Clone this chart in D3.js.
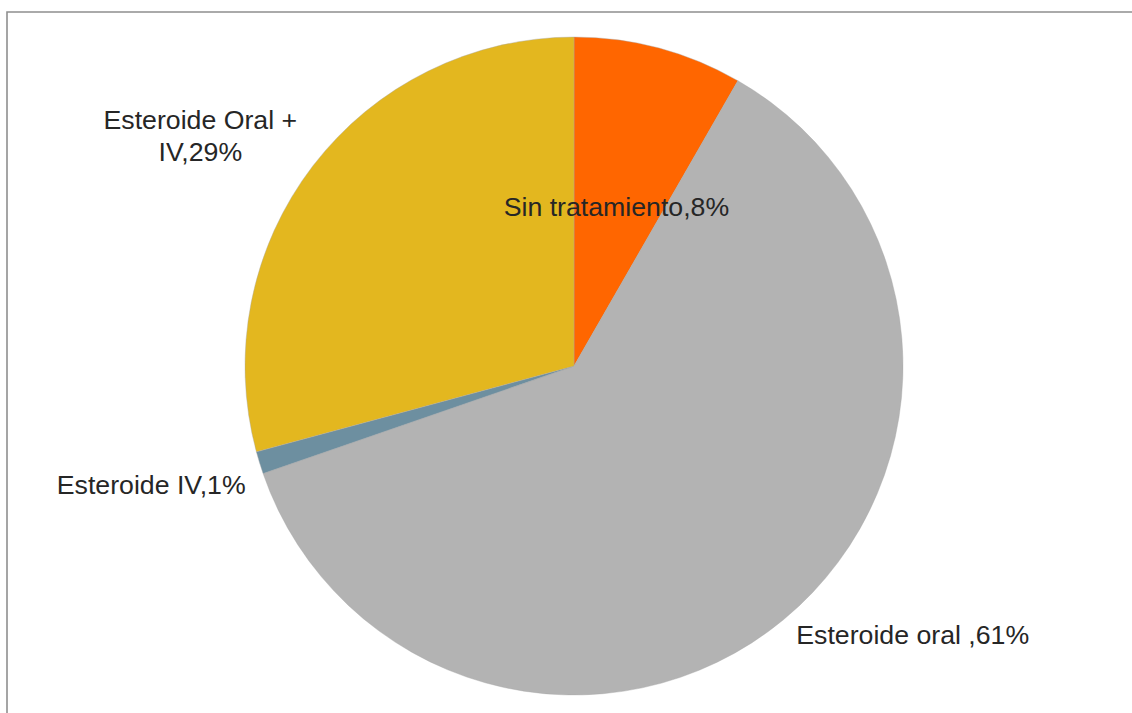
<!DOCTYPE html>
<html>
<head>
<meta charset="utf-8">
<script src="https://cdn.jsdelivr.net/npm/d3@7"></script>
<style>
  html, body { margin: 0; padding: 0; background: #fff; }
  svg { display: block; }
</style>
</head>
<body>
<div id="chart"></div>
<script>
// data (start at 12 o'clock, clockwise)
const categories = ["Sin tratamiento", "Esteroide oral ", "Esteroide IV", "Esteroide Oral + IV"];
const values = [8.3, 61.4, 1.1, 29.2];
const colors = ["#ff6600", "#b3b3b3", "#6d8fa0", "#e3b71f"];

// label placement: inside/outside, small nudges, wrap width
const labelInside = [true, false, false, false];
const labelNudge = [[0, 0], [0, 0], [5, 16], [0, 0]];
const labelWrap = [0, 0, 0, 200];

const width = 1132, height = 713;
const cx = 574, cy = 366, R = 329;
const fontSize = 26.7;

const svg = d3.select("#chart").append("svg")
    .attr("width", width)
    .attr("height", height);

// frame (top and left edges only are visible)
svg.append("path")
    .attr("d", `M7,${height} L7,12 L${width},12`)
    .attr("fill", "none")
    .attr("stroke", "#8f8f8f")
    .attr("stroke-width", 1.6);

const total = d3.sum(values);
const rows = categories.map((c, i) => ({name: c, value: values[i], color: colors[i], i: i}));

const pie = d3.pie()
    .sort(null)
    .value(d => d.value)
    .startAngle(0)
    .endAngle(2 * Math.PI);

const arcs = pie(rows);
const arc = d3.arc().innerRadius(0).outerRadius(R);

const g = svg.append("g").attr("transform", `translate(${cx},${cy})`);

g.selectAll("path")
    .data(arcs)
    .join("path")
    .attr("d", arc)
    .attr("fill", d => d.data.color)
    .attr("stroke", "#a6a6a6")
    .attr("stroke-width", 0.4);

const labelText = d => d.data.name + "," + Math.round(d.data.value / total * 100) + "%";

const pointAt = (d, r) => {
    const a = (d.startAngle + d.endAngle) / 2;
    return [Math.sin(a) * r, -Math.cos(a) * r];
};

const labels = g.append("g")
    .style("font-family", "'Liberation Sans', Arial, sans-serif")
    .style("font-size", fontSize + "px")
    .attr("fill", "#262626");

arcs.forEach(d => {
    const i = d.data.i;
    const nudge = labelNudge[i];
    const txt = labelText(d);
    if (labelInside[i]) {
        const p = pointAt(d, R * 0.5);
        labels.append("text")
            .attr("x", p[0] + nudge[0])
            .attr("y", p[1] + nudge[1])
            .attr("text-anchor", "middle")
            .attr("dy", "0.35em")
            .text(txt);
        return;
    }
    const p = pointAt(d, R * 1.06);
    const a = (d.startAngle + d.endAngle) / 2;
    const right = Math.sin(a) > 0;
    const upper = Math.cos(a) > 0;

    // wrap words if needed
    let lines = [txt];
    if (labelWrap[i]) {
        const probe = labels.append("text");
        const words = txt.split(" ");
        lines = [];
        let cur = "";
        words.forEach(w => {
            const test = cur ? cur + " " + w : w;
            probe.text(test);
            if (cur && probe.node().getComputedTextLength() > labelWrap[i]) {
                lines.push(cur);
                cur = w;
            } else {
                cur = test;
            }
        });
        if (cur) lines.push(cur);
        probe.remove();
    }

    const lh = 32;
    const t = labels.append("text");
    lines.forEach((ln, k) => t.append("tspan").text(ln));
    // measure widest line
    const tspans = t.selectAll("tspan");
    let maxW = 0;
    tspans.each(function() { maxW = Math.max(maxW, this.getComputedTextLength()); });

    const blockH = lh * (lines.length - 1);
    let x0, anchor;
    if (lines.length > 1) {
        anchor = "middle";
        x0 = right ? p[0] + maxW / 2 : p[0] - maxW / 2;
    } else {
        anchor = right ? "start" : "end";
        x0 = p[0];
    }
    let yFirst;
    if (lines.length > 1) {
        yFirst = upper ? p[1] + 7 - blockH : p[1] + 22;
    } else {
        yFirst = p[1];
    }
    t.attr("text-anchor", anchor);
    tspans
        .attr("x", x0 + nudge[0])
        .attr("y", (dd, k) => yFirst + k * lh + nudge[1])
        .attr("dy", lines.length > 1 ? null : "0.35em");
});
</script>
</body>
</html>
